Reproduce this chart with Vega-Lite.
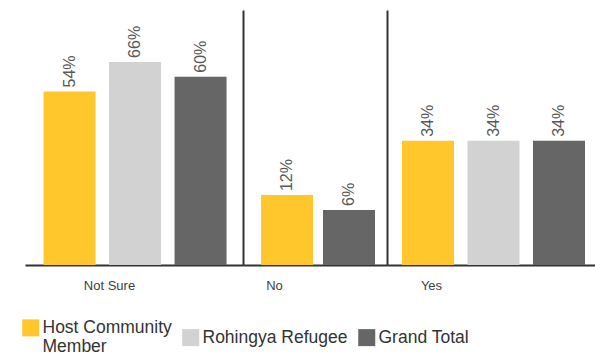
{
  "$schema": "https://vega.github.io/schema/vega-lite/v6.json",
  "autosize": {"type": "pad"},
  "padding": {"left": 22, "top": 10, "right": 0, "bottom": 0},
  "background": "white",
  "bounds": "flush",
  "spacing": 0,
  "data": {
    "values": [
      {"group": "Not Sure", "series": "Host Community Member", "value": 0.54},
      {"group": "Not Sure", "series": "Rohingya Refugee", "value": 0.66},
      {"group": "Not Sure", "series": "Grand Total", "value": 0.60},
      {"group": "No", "series": "Host Community Member", "value": 0.12},
      {"group": "No", "series": "Grand Total", "value": 0.06},
      {"group": "Yes", "series": "Host Community Member", "value": 0.34},
      {"group": "Yes", "series": "Rohingya Refugee", "value": 0.34},
      {"group": "Yes", "series": "Grand Total", "value": 0.34}
    ]
  },
  "config": {
    "view": {"stroke": null},
    "font": "Liberation Sans, Arial, sans-serif",
    "axisX": {"labels": false, "ticks": false, "grid": false, "domainColor": "#333333", "domainWidth": 2, "titleFontSize": 13, "titleFontWeight": "normal", "titleColor": "#404040", "titlePadding": 14, "titleAlign": "center"},
    "axisY": {"orient": "right", "labels": false, "ticks": false, "grid": false, "title": null, "domainColor": "#333333", "domainWidth": 2},
    "legend": {
      "orient": "none", "legendX": -3, "legendY": 309, "direction": "horizontal",
      "symbolType": "square", "symbolSize": 289, "symbolStrokeWidth": 0, "symbolOpacity": 1,
      "labelFontSize": 17.5, "labelColor": "#333333", "labelOffset": 3, "columnPadding": 10,
      "labelLimit": 300, "labelBaseline": "middle", "labelLineHeight": 20
    }
  },
  "hconcat": [
    {
      "width": 218, "height": 255,
      "transform": [{"filter": "datum.group === 'Not Sure'"}],
      "encoding": {
        "x": {"field": "series", "type": "nominal", "sort": ["Host Community Member", "Rohingya Refugee", "Grand Total"], "scale": {"paddingInner": 0.206, "paddingOuter": 0.267, "align": 0.53}, "axis": {"title": "Not Sure", "titleX": 84}},
        "y": {"field": "value", "type": "quantitative", "scale": {"domain": [-0.1634, 0.8703]}}
      },
      "layer": [
        {"mark": {"type": "bar"}, "encoding": {"y2": {"datum": -0.1634}, "color": {"field": "series", "type": "nominal", "sort": ["Host Community Member", "Rohingya Refugee", "Grand Total"], "scale": {"domain": ["Host Community Member", "Rohingya Refugee", "Grand Total"], "range": ["#FFC72C", "#D2D2D2", "#656665"]}, "legend": {"title": null, "labelExpr": "datum.label === 'Host Community Member' ? ['Host Community', 'Member'] : datum.label"}}}},
        {"mark": {"type": "text", "angle": 270, "align": "left", "baseline": "middle", "dx": 4, "fontSize": 16, "color": "#585858"}, "encoding": {"text": {"field": "value", "format": ".0%"}}}
      ]
    },
    {
      "width": 144, "height": 255,
      "transform": [{"filter": "datum.group === 'No'"}],
      "encoding": {
        "x": {"field": "series", "type": "nominal", "sort": ["Host Community Member", "Rohingya Refugee", "Grand Total"], "scale": {"paddingInner": 0.161, "paddingOuter": 0.242, "align": 0.6}, "axis": {"title": "No", "titleX": 31}},
        "y": {"field": "value", "type": "quantitative", "scale": {"domain": [-0.1634, 0.8703]}}
      },
      "layer": [
        {"mark": {"type": "bar"}, "encoding": {"y2": {"datum": -0.1634}, "color": {"field": "series", "type": "nominal", "legend": null}}},
        {"mark": {"type": "text", "angle": 270, "align": "left", "baseline": "middle", "dx": 4, "fontSize": 16, "color": "#585858"}, "encoding": {"text": {"field": "value", "format": ".0%"}}}
      ]
    },
    {
      "width": 213, "height": 255,
      "transform": [{"filter": "datum.group === 'Yes'"}],
      "encoding": {
        "x": {"field": "series", "type": "nominal", "sort": ["Host Community Member", "Rohingya Refugee", "Grand Total"], "scale": {"paddingInner": 0.206, "paddingOuter": 0.229}, "axis": {"title": "Yes", "titleX": 44}},
        "y": {"field": "value", "type": "quantitative", "scale": {"domain": [-0.1634, 0.8703]}}
      },
      "layer": [
        {"mark": {"type": "bar"}, "encoding": {"y2": {"datum": -0.1634}, "color": {"field": "series", "type": "nominal", "legend": null}}},
        {"mark": {"type": "text", "angle": 270, "align": "left", "baseline": "middle", "dx": 4, "fontSize": 16, "color": "#585858"}, "encoding": {"text": {"field": "value", "format": ".0%"}}}
      ]
    }
  ]
}
